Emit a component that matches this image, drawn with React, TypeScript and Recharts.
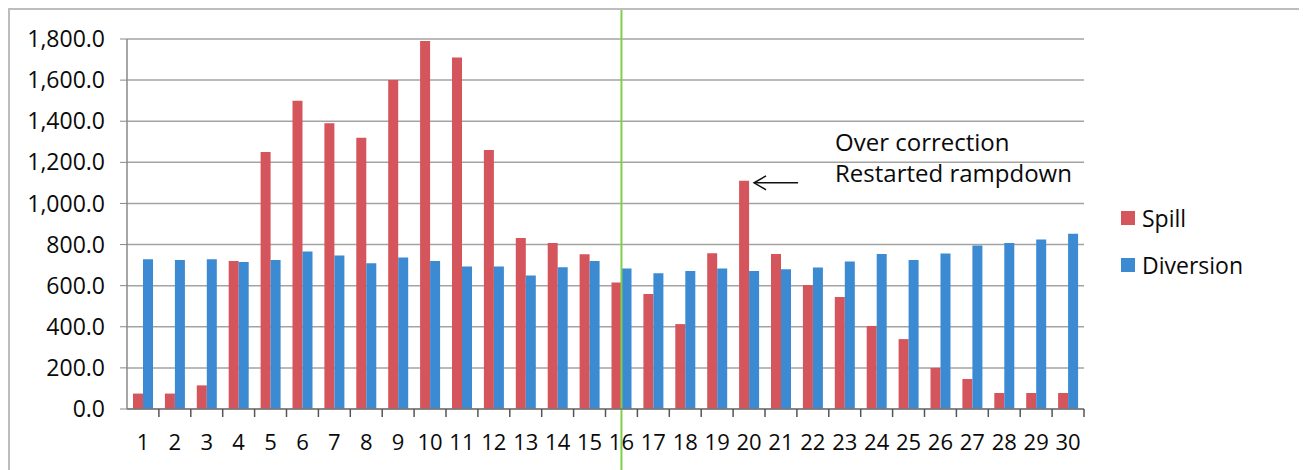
import { BarChart, Bar, XAxis, YAxis, CartesianGrid, ReferenceLine, ReferenceDot, Legend } from "recharts";

const days = [1, 2, 3, 4, 5, 6, 7, 8, 9, 10, 11, 12, 13, 14, 15, 16, 17, 18, 19, 20, 21, 22, 23, 24, 25, 26, 27, 28, 29, 30];
const spill = [75, 75, 115, 720, 1250, 1500, 1390, 1320, 1600, 1790, 1710, 1260, 832, 807, 753, 615, 560, 413, 758, 1110, 754, 603, 545, 404, 340, 200, 146, 78, 78, 78];
const diversion = [728, 725, 728, 715, 725, 766, 747, 709, 737, 720, 693, 693, 650, 690, 720, 684, 660, 671, 684, 671, 680, 688, 717, 754, 725, 757, 795, 807, 825, 853];
const yTicks = [0, 200, 400, 600, 800, 1000, 1200, 1400, 1600, 1800];
const seriesOrder = ["spill", "diversion"];
const markerDay = 16;
const noteDay = 20;
const noteLines = ["Over correction", "Restarted rampdown"];

const RED = "#D4555C";
const BLUE = "#3B8AD2";
const GREEN = "#7ED04B";
const FONT = "'Open Sans', sans-serif";
const TEXT = "#0a0a0a";

const data = days.map((d, i) => ({ day: d, spill: spill[i], diversion: diversion[i] }));

// plot is 957px wide for 30 days -> boundary ticks sit half a band right of centre
const HALF_BAND = 957 / days.length / 2;

function DayTick(props: any) {
  const { x, y, payload } = props;
  return (
    <g>
      <line x1={x + HALF_BAND} x2={x + HALF_BAND} y1={y} y2={y + 8} stroke="#555" strokeWidth={1.5} />
      <text x={x} y={y + 25} dy="0.71em" textAnchor="middle" fontSize={22} fontFamily={FONT} fill={TEXT}>
        {payload.value}
      </text>
    </g>
  );
}

function GreenLine(props: any) {
  return <line x1={props.x1} x2={props.x2} y1={0} y2={470} stroke={GREEN} strokeWidth={2} />;
}

function Note(props: any) {
  const { cx, cy } = props;
  const y = cy + 2;
  return (
    <g>
      <line x1={cx + 5} x2={cx + 49} y1={y} y2={y} stroke="#111" strokeWidth={1.5} />
      <polyline points={`${cx + 17},${y - 7} ${cx + 5},${y} ${cx + 17},${y + 7}`} fill="none" stroke="#111" strokeWidth={1.5} />
      {noteLines.map((t, i) => (
        <text key={t} x={cx + 86} y={cy - 38 + i * 31} dy="0.35em" fontSize={24} fontFamily={FONT} fill={TEXT}>
          {t}
        </text>
      ))}
    </g>
  );
}

function LegendBox(props: any) {
  const items = [...(props.payload || [])].sort(
    (a: any, b: any) => seriesOrder.indexOf(a.dataKey) - seriesOrder.indexOf(b.dataKey)
  );
  return (
    <div style={{ fontFamily: FONT, fontSize: 23, color: TEXT }}>
      {items.map((p: any) => (
        <div key={p.value} style={{ display: "flex", alignItems: "center", height: 47 }}>
          <span style={{ display: "inline-block", width: 14, height: 14, background: p.color, marginRight: 7 }} />
          <span>{p.value}</span>
        </div>
      ))}
    </div>
  );
}

export default function App() {
  return (
    <div style={{ width: 1290, height: 470, border: "2px solid #bdbdbd", background: "#fff", overflow: "hidden" }}>
      <BarChart
        width={1290}
        height={460}
        data={data}
        margin={{ top: 29, right: 216, bottom: 0, left: 0 }}
        barGap={0}
        barSize={10}
      >
        <CartesianGrid vertical={false} stroke="#a3a3a3" strokeWidth={1.5} />
        <XAxis
          dataKey="day"
          type="category"
          height={61}
          tickSize={0}
          tickMargin={0}
          tickLine={false}
          tick={<DayTick />}
          interval={0}
          axisLine={{ stroke: "#777", strokeWidth: 1.5 }}
        />
        <YAxis
          width={117}
          domain={[0, 1800]}
          ticks={yTicks}
          interval={0}
          tickSize={7}
          tickMargin={15}
          tickLine={{ stroke: "#888" }}
          axisLine={{ stroke: "#888", strokeWidth: 1.5 }}
          tick={{ fontSize: 23, fontFamily: FONT, fill: TEXT }}
          tickFormatter={(v: number) => v.toLocaleString("en-US", { minimumFractionDigits: 1, maximumFractionDigits: 1 })}
        />
        <Legend
          layout="horizontal"
          verticalAlign="middle"
          align="center"
          wrapperStyle={{ left: 1111, top: 184, width: 170 }}
          content={<LegendBox />}
        />
        <Bar dataKey="spill" name="Spill" fill={RED} isAnimationActive={false} />
        <Bar dataKey="diversion" name="Diversion" fill={BLUE} isAnimationActive={false} />
        <ReferenceLine x={markerDay} shape={<GreenLine />} />
        <ReferenceDot x={noteDay} y={spill[noteDay - 1]} shape={<Note />} />
      </BarChart>
    </div>
  );
}
